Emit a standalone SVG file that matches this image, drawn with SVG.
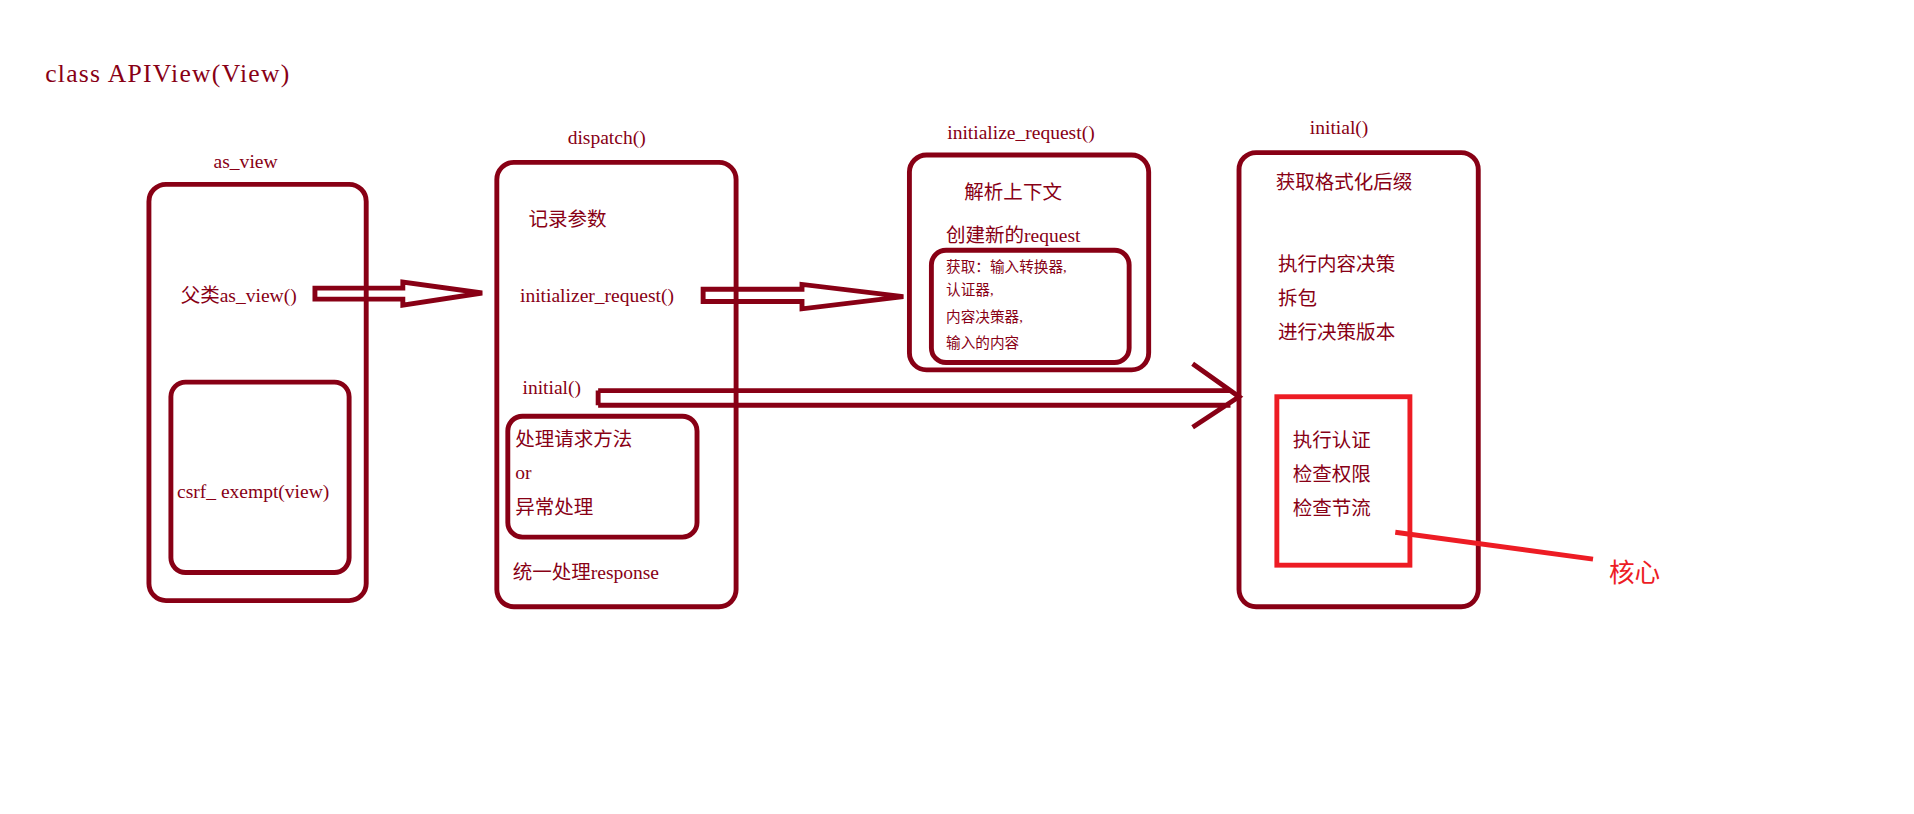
<svg xmlns="http://www.w3.org/2000/svg" width="1914" height="814" viewBox="0 0 1914 814">
<style>
.b{fill:none;stroke:#880015;stroke-width:4}
.r{fill:none;stroke:#ED1C24;stroke-width:4}
text{font-family:"Liberation Serif","Noto Sans CJK SC",serif;fill:#880015;font-size:16px}
.s{font-size:12px}
.t{font-size:21px}
</style>
<rect width="1914" height="814" fill="#fff"/>
<g transform="scale(1.2207)">
<text x="37" y="67" class="t" textLength="200">class APIView(View)</text>
<g id="as_view">
<text x="175" y="138">as_view</text>
<rect class="b" x="122" y="151" width="178" height="341" rx="14"/>
<text x="148" y="247">父类as_view()</text>
<rect class="b" x="140" y="313" width="146" height="156" rx="12"/>
<text x="145" y="408">csrf_ exempt(view)</text>
</g>
<g id="dispatch">
<text x="465" y="118">dispatch()</text>
<rect class="b" x="407" y="133" width="196" height="364" rx="14"/>
<text x="433" y="185">记录参数</text>
<text x="426" y="247">initializer_request()</text>
<text x="428" y="323">initial()</text>
<rect class="b" x="416" y="341" width="155" height="99" rx="12"/>
<text x="422" y="365">处理请求方法</text>
<text x="422" y="392">or</text>
<text x="422" y="421">异常处理</text>
<text x="420" y="474">统一处理response</text>
</g>
<g id="initialize_request">
<text x="776" y="114">initialize_request()</text>
<rect class="b" x="745" y="127" width="196" height="176" rx="14"/>
<text x="790" y="163">解析上下文</text>
<text x="775" y="198">创建新的request</text>
<rect class="b" x="763" y="205" width="162" height="92" rx="12"/>
<text x="775" y="223" class="s">获取：输入转换器,</text>
<text x="775" y="242" class="s">认证器,</text>
<text x="775" y="264" class="s">内容决策器,</text>
<text x="775" y="285" class="s">输入的内容</text>
</g>
<g id="initial">
<text x="1073" y="110">initial()</text>
<rect class="b" x="1015" y="125" width="196" height="372" rx="14"/>
<text x="1045" y="155">获取格式化后缀</text>
<text x="1047" y="222">执行内容决策</text>
<text x="1047" y="250">拆包</text>
<text x="1047" y="278">进行决策版本</text>
<rect class="r" x="1046" y="325" width="109" height="138"/>
<text x="1059" y="366">执行认证</text>
<text x="1059" y="394">检查权限</text>
<text x="1059" y="422">检查节流</text>
</g>
<g id="core">
<text x="1318" y="477" class="t" style="fill:#ED1C24">核心</text>
</g>
<g id="connectors">
<path class="b" d="M258 236H330V231L395 240L330 250V245H258Z"/>
<path class="b" d="M576 237H657V233L740 243L657 253V247H576Z"/>
<path class="b" d="M490 320H1008M490 332H1008M490 320V332M977 298L1015 325L977 350"/>
<path class="r" d="M1143 436L1305 458"/>
</g>
</g>
</svg>
